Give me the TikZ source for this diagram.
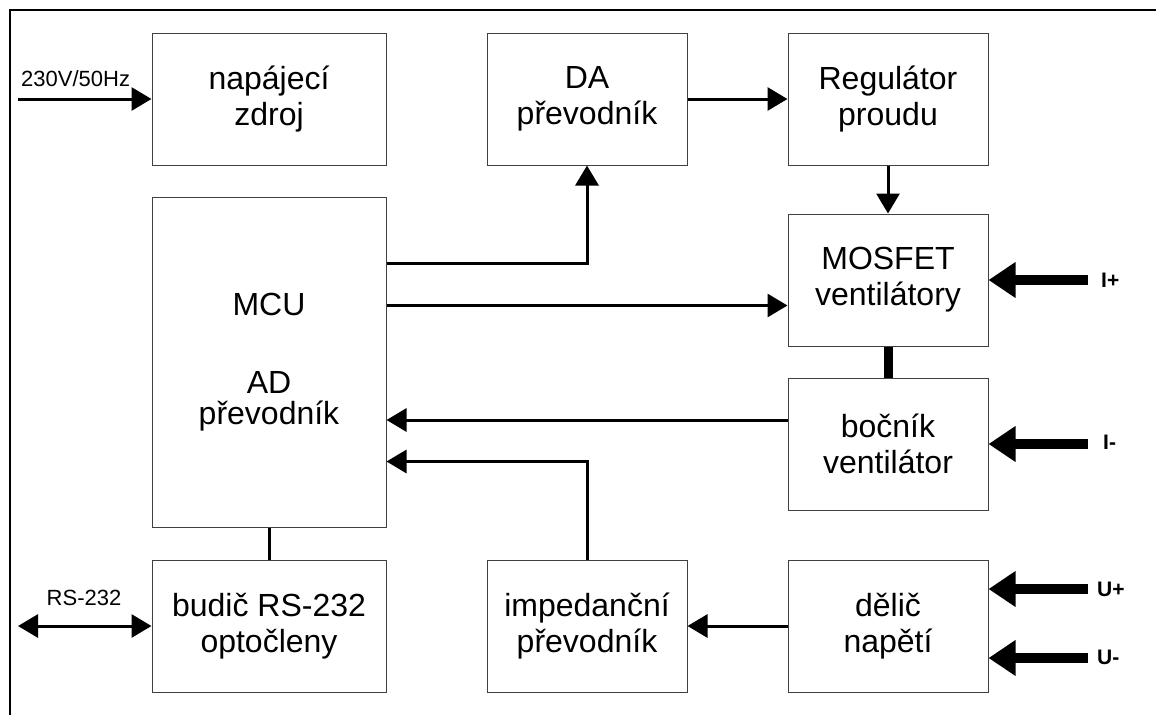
\documentclass[tikz,border=0pt]{standalone}
\usepackage{fontspec}
\setmainfont{Liberation Sans}
\usetikzlibrary{arrows.meta}
\tikzstyle{block}=[draw=black!75, line width=1pt, rectangle, align=center, inner sep=0pt, font=\fontsize{32}{36}\selectfont]
\tikzstyle{wide}=[block, minimum width=234pt, minimum height=132pt]
\tikzstyle{narrow}=[block, minimum width=200pt, minimum height=132pt]
\tikzstyle{conn}=[line width=3pt, -{Triangle[length=20pt,width=23pt]}]
\tikzstyle{power}=[line width=10pt, -{Triangle[length=27pt,width=34pt]}]
\tikzstyle{small}=[inner sep=0pt, font=\fontsize{22}{26}\selectfont]
\tikzstyle{pin}=[inner sep=0pt, anchor=west, font=\fontsize{21}{24}\selectfont\bfseries]

\begin{document}
\begin{tikzpicture}[x=1pt, y=-1pt]
\useasboundingbox (0,0) rectangle (1156,715);
% Frame
    \draw[line width=2.5pt] (10,715) -- (10,10) -- (1156,10);
% Blocks
    \node[wide] (zdroj) at (269,99) {napájecí\\zdroj};
    \node[narrow] (da) at (587,99) {DA\\převodník};
    \node[narrow] (reg) at (888,99) {Regulátor\\proudu};
    \node[wide, minimum height=330pt] (mcu) at (269,362) {MCU\\[42pt]AD\\[-5pt]převodník};
    \node[narrow] (mos) at (888,280) {MOSFET\\ventilátory};
    \node[narrow] (boc) at (888,444) {bočník\\ventilátor};
    \node[wide] (bud) at (269,626) {budič RS-232\\optočleny};
    \node[narrow] (imp) at (587,626) {impedanční\\převodník};
    \node[narrow] (del) at (888,626) {dělič\\napětí};
% Inputs
    \coordinate (ac) at (18,99);
    \coordinate (rs) at (18,626);
    \coordinate (iplus) at (1088,280);
    \coordinate (iminus) at (1088,444);
    \coordinate (uplus) at (1088,589);
    \coordinate (uminus) at (1088,658);
    \node[small, anchor=base west] (aclabel) at (21,86) {230V/50Hz};
    \node[small, anchor=base] (rslabel) at (84,605) {RS-232};
    \node[pin] (iplabel) at (1101,280) {I+};
    \node[pin] (imlabel) at (1103,442) {I-};
    \node[pin] (uplabel) at (1097,589) {U+};
    \node[pin] (umlabel) at (1097,657) {U-};
% Connections
    \draw[conn] (ac) -- (zdroj.west);
    \draw[conn, {Triangle[length=20pt,width=23pt]}-{Triangle[length=20pt,width=23pt]}] (rs) -- (bud.west);
    \draw[conn] ([yshift=-67pt]mcu.north east) -| (da.south);
    \draw[conn] (da.east) -- (reg.west);
    \draw[conn] (reg.south) -- (mos.north);
    \draw[conn] ([yshift=-109pt]mcu.north east) coordinate (m1) -- (m1 -| mos.west);
    \draw[line width=9pt] (mos.south) -- (boc.north);
    \draw[conn] ([yshift=24pt]boc.west) coordinate (b1) -- (b1 -| mcu.east);
    \draw[conn] (imp.north) |- ([yshift=-265pt]mcu.north east);
    \draw[line width=3pt] (mcu.south) -- (bud.north);
    \draw[conn] (del.west) -- (imp.east);
% Measured quantities
    \draw[power] (iplus) -- (mos.east);
    \draw[power] (iminus) -- (boc.east);
    \draw[power] (uplus) -- (uplus -| del.east);
    \draw[power] (uminus) -- (uminus -| del.east);
\end{tikzpicture}
\end{document}
